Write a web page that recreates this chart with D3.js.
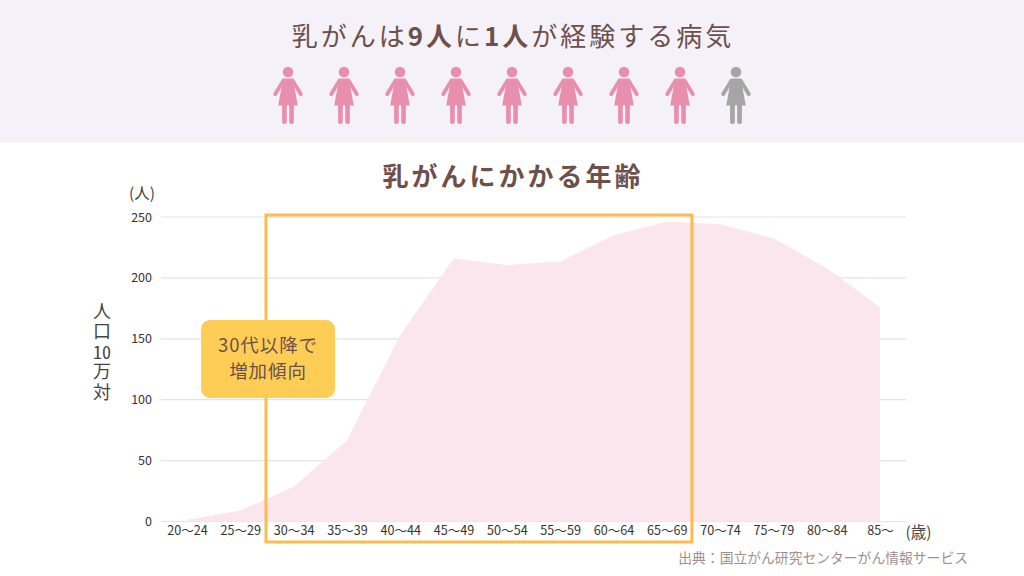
<!DOCTYPE html>
<html>
<head>
<meta charset="utf-8">
<script src="https://d3js.org/d3.v7.min.js"></script>
<style>
html,body{margin:0;padding:0;background:#fff;}
svg{display:block;}
text{font-family:"Noto Sans CJK JP","Noto Sans",sans-serif;}
.ylabel{writing-mode:vertical-rl;font-family:"Noto Sans CJK JP",sans-serif;font-size:18px;line-height:24px;letter-spacing:2.2px;color:#444;margin:0;}
.ylabel span{text-combine-upright:all;letter-spacing:0;margin-bottom:2.2px;}
</style>
</head>
<body>
<svg id="chart" width="1024" height="576"></svg>
<script>
const ages = ["20〜24","25〜29","30〜34","35〜39","40〜44","45〜49","50〜54","55〜59","60〜64","65〜69","70〜74","75〜79","80〜84","85〜"];
const rates = [1.5,9,28.5,66.5,153,216,210.5,213.5,235,246,244,232.5,208,176];
const yTicks = [0,50,100,150,200,250];
const people = [1,1,1,1,1,1,1,1,0];
const highlightAges = ["30〜34","65〜69"];
const calloutLines = ["30代以降で","増加傾向"];

const svg = d3.select("#chart");
const brown = "#6e504b";

// header band
svg.append("rect").attr("width",1024).attr("height",142).attr("fill","#f4f1f8");
const headline = svg.append("text").attr("x",513).attr("y",46).attr("text-anchor","middle")
  .attr("font-size",26).attr("letter-spacing",3).attr("fill",brown);
[["乳がんは",400],["9人",700],["に",400],["1人",700],["が経験する病気",400]].forEach(d => {
  headline.append("tspan").attr("font-weight",d[1]).text(d[0]);
});

// people row
const px = d3.scalePoint().domain(d3.range(people.length)).range([288,736]);
const person = svg.append("g").selectAll("g").data(people).join("g")
  .attr("transform",(d,i) => "translate("+px(i)+",72)")
  .attr("fill",d => d ? "#e98fae" : "#a5a5a5");
person.append("circle").attr("r",5.3);
person.append("path").attr("d","M-4.6,6.4 L4.6,6.4 Q5.6,6.4 6.2,7.4 L14.4,21 Q15.4,23 13.6,24 Q12,24.6 11,23 L6.4,15 L9.8,33.4 L5.9,33.4 L5.9,50 Q5.9,52 3.7,52 Q1.2,52 1.2,50 L1.2,33.4 L-1.2,33.4 L-1.2,50 Q-1.2,52 -3.7,52 Q-5.9,52 -5.9,50 L-5.9,33.4 L-9.8,33.4 L-6.4,15 L-11,23 Q-12,24.6 -13.6,24 Q-15.4,23 -14.4,21 L-6.2,7.4 Q-5.6,6.4 -4.6,6.4 Z");

// chart title
svg.append("text").attr("x",513).attr("y",186).attr("text-anchor","middle")
  .attr("font-size",26).attr("font-weight",700).attr("letter-spacing",3)
  .attr("fill",brown).text("乳がんにかかる年齢");

const x = d3.scalePoint().domain(ages).range([187,880]);
const y = d3.scaleLinear().domain([0,250]).range([521.5,217]);

// gridlines
svg.append("g").selectAll("line").data(yTicks).join("line")
  .attr("x1",161).attr("x2",906)
  .attr("y1",d => y(d)).attr("y2",d => y(d))
  .attr("stroke","#e4e4e4").attr("stroke-width",1.2);

// y axis
const yAxis = svg.append("g").attr("transform","translate(161,0)")
  .call(d3.axisLeft(y).tickValues(yTicks).tickSize(0).tickPadding(9));
yAxis.select(".domain").remove();
yAxis.selectAll("text").attr("font-size",12.5).attr("fill","#333")
  .style("font-family",'"Noto Sans CJK JP",sans-serif');

// area
const area = d3.area().x((d,i) => x(ages[i])).y0(y(0)).y1(d => y(d));
svg.append("path").datum(rates).attr("d",area).attr("fill","#fbe6ed");

// x axis
const xAxis = svg.append("g").attr("transform","translate(0,"+y(0)+")")
  .call(d3.axisBottom(x).tickSize(0).tickPadding(5));
xAxis.select(".domain").remove();
xAxis.selectAll("text").attr("font-size",12.6).attr("fill","#333")
  .style("font-family",'"Noto Sans CJK JP",sans-serif');

// highlight frame
const step = x.step();
svg.append("rect")
  .attr("x",x(highlightAges[0])-step/2-1)
  .attr("y",y(250)-2)
  .attr("width",x(highlightAges[1])-x(highlightAges[0])+step-0.5)
  .attr("height",y(0)-y(250)+22.5)
  .attr("fill","none").attr("stroke","#fdbb50").attr("stroke-width",3);

// callout
svg.append("rect").attr("x",201).attr("y",320).attr("width",134).attr("height",78).attr("rx",9)
  .attr("fill","#fecd55");
svg.append("g").selectAll("text").data(calloutLines).join("text")
  .attr("x",268).attr("y",(d,i) => 352+i*25.5).attr("text-anchor","middle")
  .attr("font-size",18.5).attr("letter-spacing",0.9).attr("fill",brown).text(d => d);

// axis captions
svg.append("text").attr("x",142).attr("y",199).attr("text-anchor","middle")
  .attr("font-size",15.5).attr("fill","#444").text("(人)");
svg.append("text").attr("x",918.5).attr("y",538).attr("text-anchor","middle")
  .attr("font-size",15.5).attr("fill","#444").text("(歳)");

// vertical y label, one text block so "10" stays horizontal
svg.append("foreignObject").attr("x",90).attr("y",302).attr("width",24).attr("height",110)
  .append("xhtml:div").attr("class","ylabel").html("人口<span>10</span>万対");

// source
svg.append("text").attr("x",968).attr("y",563).attr("text-anchor","end")
  .attr("font-size",13.8).attr("fill","#a48e8c").text("出典：国立がん研究センターがん情報サービス");
</script>
</body>
</html>
